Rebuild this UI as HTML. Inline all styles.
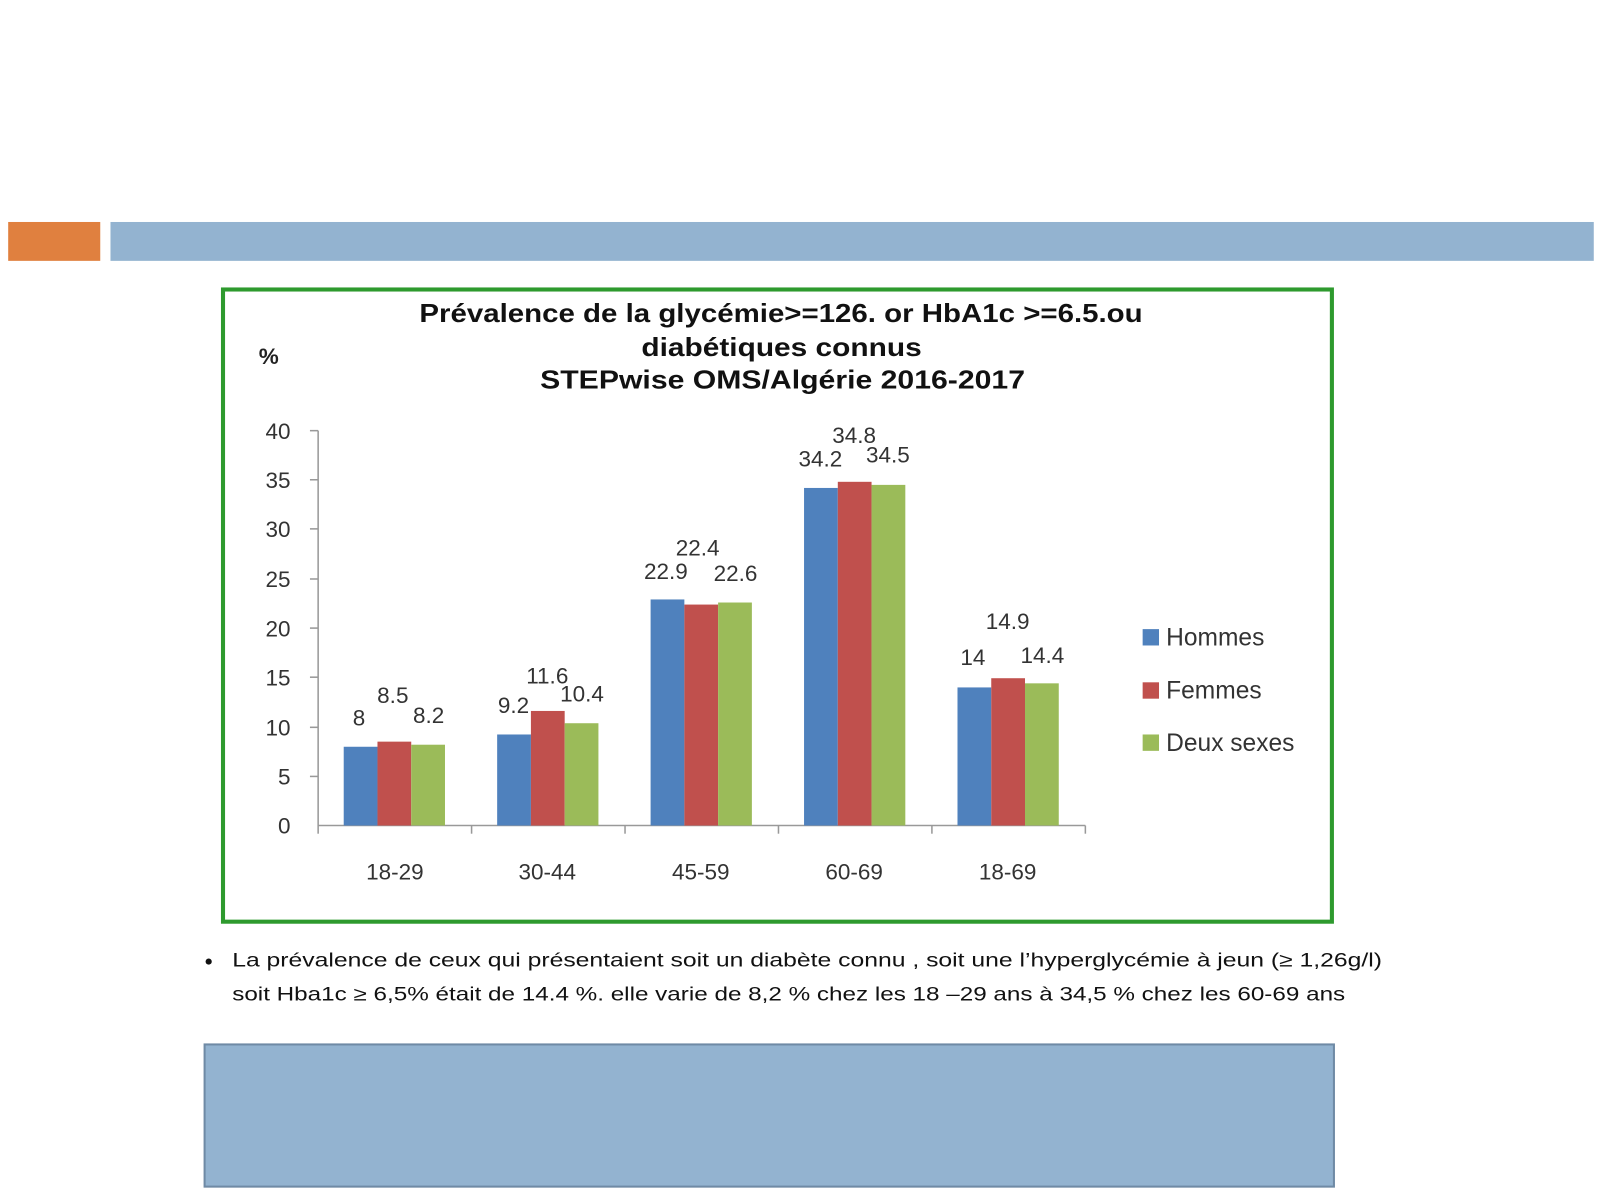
<!DOCTYPE html>
<html><head><meta charset="utf-8"><style>html,body{margin:0;padding:0;background:#fff}svg{display:block}</style></head>
<body>
<svg width="1604" height="1190" viewBox="0 0 1568 1163.3" preserveAspectRatio="none" xmlns="http://www.w3.org/2000/svg" font-family="Liberation Sans, sans-serif">
<rect width="1568" height="1164" fill="#fff"/>
<rect x="8" y="217" width="90" height="38" fill="#E0803F"/>
<rect x="108" y="217" width="1450" height="38" fill="#93B3D0"/>
<rect x="218" y="283" width="1084" height="618" fill="#fff" stroke="#2E9A2E" stroke-width="4"/>
<g font-weight="bold" font-size="25" fill="#111">
<text x="410" y="315" textLength="707" lengthAdjust="spacingAndGlyphs">Prévalence de la glycémie&gt;=126. or HbA1c &gt;=6.5.ou</text>
<text x="627" y="348" textLength="274" lengthAdjust="spacingAndGlyphs">diabétiques connus</text>
<text x="528" y="380" textLength="474" lengthAdjust="spacingAndGlyphs">STEPwise OMS/Algérie  2016-2017</text>
</g>
<text x="253" y="356" font-size="22" font-weight="bold" fill="#222">%</text>
<g font-size="22" fill="#333" text-anchor="end">
<text x="284" y="815">0</text><text x="284" y="767">5</text><text x="284" y="719">10</text><text x="284" y="670">15</text><text x="284" y="622">20</text><text x="284" y="574">25</text><text x="284" y="525">30</text><text x="284" y="477">35</text><text x="284" y="429">40</text>
</g>
<g stroke="#999" stroke-width="1.5">
<line x1="311" y1="421" x2="311" y2="807"/><line x1="311" y1="807" x2="1061" y2="807"/>
<line x1="303" y1="421" x2="311" y2="421"/><line x1="303" y1="469" x2="311" y2="469"/><line x1="303" y1="517" x2="311" y2="517"/><line x1="303" y1="566" x2="311" y2="566"/><line x1="303" y1="614" x2="311" y2="614"/><line x1="303" y1="662" x2="311" y2="662"/><line x1="303" y1="711" x2="311" y2="711"/><line x1="303" y1="759" x2="311" y2="759"/>
<line x1="311" y1="807" x2="311" y2="815"/><line x1="461" y1="807" x2="461" y2="815"/><line x1="611" y1="807" x2="611" y2="815"/><line x1="761" y1="807" x2="761" y2="815"/><line x1="911" y1="807" x2="911" y2="815"/><line x1="1061" y1="807" x2="1061" y2="815"/>
</g>
<g>
<rect x="336" y="730" width="33" height="77" fill="#4F81BD"/><rect x="369" y="725" width="33" height="82" fill="#C0504D"/><rect x="402" y="728" width="33" height="79" fill="#9BBB59"/>
<rect x="486" y="718" width="33" height="89" fill="#4F81BD"/><rect x="519" y="695" width="33" height="112" fill="#C0504D"/><rect x="552" y="707" width="33" height="100" fill="#9BBB59"/>
<rect x="636" y="586" width="33" height="221" fill="#4F81BD"/><rect x="669" y="591" width="33" height="216" fill="#C0504D"/><rect x="702" y="589" width="33" height="218" fill="#9BBB59"/>
<rect x="786" y="477" width="33" height="330" fill="#4F81BD"/><rect x="819" y="471" width="33" height="336" fill="#C0504D"/><rect x="852" y="474" width="33" height="333" fill="#9BBB59"/>
<rect x="936" y="672" width="33" height="135" fill="#4F81BD"/><rect x="969" y="663" width="33" height="144" fill="#C0504D"/><rect x="1002" y="668" width="33" height="139" fill="#9BBB59"/>
</g>
<g font-size="22" fill="#333" text-anchor="middle">
<text x="351" y="709">8</text><text x="384" y="687">8.5</text><text x="419" y="707">8.2</text>
<text x="502" y="697">9.2</text><text x="535" y="668">11.6</text><text x="569" y="686">10.4</text>
<text x="651" y="566">22.9</text><text x="682" y="543">22.4</text><text x="719" y="568">22.6</text>
<text x="802" y="456">34.2</text><text x="835" y="433">34.8</text><text x="868" y="452">34.5</text>
<text x="951" y="650">14</text><text x="985" y="615">14.9</text><text x="1019" y="648">14.4</text>
<text x="386" y="860">18-29</text><text x="535" y="860">30-44</text><text x="685" y="860">45-59</text><text x="835" y="860">60-69</text><text x="985" y="860">18-69</text>
</g>
<rect x="1117" y="615" width="16" height="16" fill="#4F81BD"/><rect x="1117" y="667" width="16" height="16" fill="#C0504D"/><rect x="1117" y="718" width="16" height="16" fill="#9BBB59"/>
<g font-size="24" fill="#333">
<text x="1140" y="631">Hommes</text><text x="1140" y="683">Femmes</text><text x="1140" y="734">Deux sexes</text>
</g>
<circle cx="204" cy="940" r="3" fill="#111"/>
<g font-size="19" fill="#111">
<text x="227" y="945" textLength="1124" lengthAdjust="spacingAndGlyphs">La prévalence de ceux qui présentaient soit un diabète connu , soit une  l’hyperglycémie  à jeun (≥ 1,26g/l)</text>
<text x="227" y="978" textLength="1088" lengthAdjust="spacingAndGlyphs">soit Hba1c ≥ 6,5%   était de 14.4 %.  elle varie  de 8,2 % chez les  18 –29 ans à 34,5 % chez les 60-69 ans</text>
</g>
<rect x="200" y="1021" width="1104" height="139" fill="#93B3D0" stroke="#6F8AA5" stroke-width="2"/>
</svg>
</body></html>
